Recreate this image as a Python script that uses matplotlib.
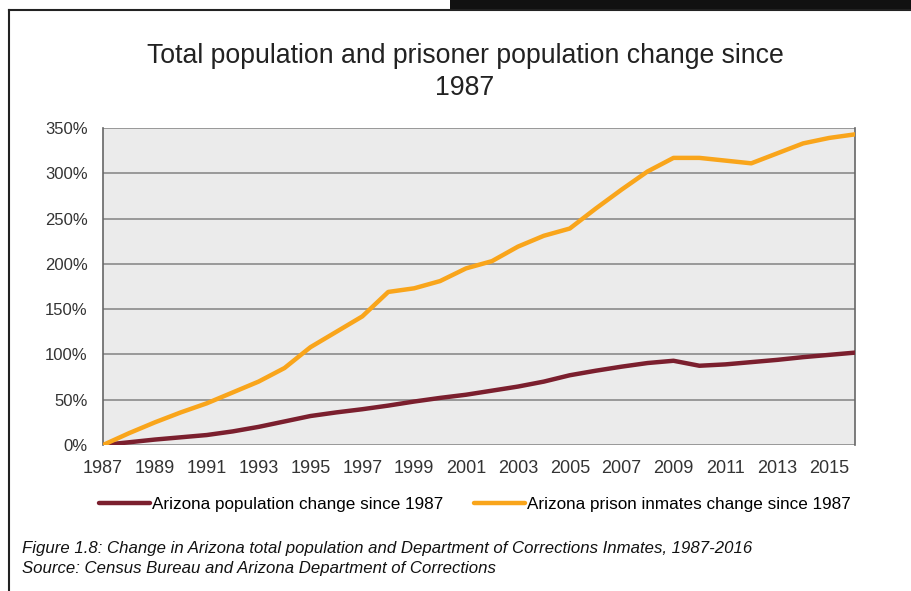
import numpy as np
import matplotlib
matplotlib.use('Agg')
import matplotlib.pyplot as plt
from matplotlib.lines import Line2D
from matplotlib.patches import Rectangle

# data (percent change since 1987)
years = list(range(1987, 2017))
population = [0, 3, 6, 8.5, 11, 15, 20, 26, 32, 36, 39.5, 43.5, 48, 52, 55.5,
              60, 64.5, 70, 77, 82, 86.5, 90.5, 93, 87.5, 89, 91.5, 94, 97, 99.5, 102]
inmates = [0, 13, 25, 36, 46, 58, 70, 85, 108, 125, 142, 169, 173, 181, 195,
           203, 219, 231, 239, 261, 282, 302, 317, 317, 314, 311, 322, 333, 339, 343]
yticks = [0, 50, 100, 150, 200, 250, 300, 350]
xticks = list(range(1987, 2016, 2))

W, H = 912, 591
fig = plt.figure(figsize=(W / 100, H / 100), dpi=100)
fig.patch.set_facecolor('white')

fnt = ['Liberation Sans', 'DejaVu Sans']

# scan frame bits
fig.add_artist(Rectangle((450 / W, 1 - 9 / H), (W - 450) / W, 9 / H,
                         transform=fig.transFigure, color='#111111', lw=0))
fig.add_artist(Line2D([9 / W, 1], [1 - 10 / H, 1 - 10 / H], transform=fig.transFigure,
                      color='#222222', lw=1.5))
fig.add_artist(Line2D([9 / W, 9 / W], [0, 1 - 10 / H], transform=fig.transFigure,
                      color='#222222', lw=1.5))

ax = fig.add_axes([103 / W, (H - 445) / H, 752 / W, 317 / H])
ax.set_facecolor('#ebebeb')
ax.plot(years, population, color='#7b1f2e', lw=3.2, solid_capstyle='round',
        label='Arizona population change since 1987', zorder=3)
ax.plot(years, inmates, color='#f9a51b', lw=3.2, solid_capstyle='round',
        label='Arizona prison inmates change since 1987', zorder=3)

ax.set_xlim(1987, 2016)
ax.set_ylim(0, 350)
ax.set_yticks(yticks)
ax.set_yticklabels(['%d%%' % v for v in yticks], family=fnt, fontsize=12, color='#333333')
ax.set_xticks(xticks)
ax.set_xticklabels([str(v) for v in xticks], family=fnt, fontsize=13, color='#333333')
ax.tick_params(axis='y', length=0, pad=11)
ax.tick_params(axis='x', length=0, pad=11)
ax.grid(axis='y', color='#8a8a8a', lw=1.2)
ax.set_axisbelow(True)
for s in ['top', 'bottom']:
    ax.spines[s].set_visible(False)
for s in ['left', 'right']:
    ax.spines[s].set_color('#666666')
    ax.spines[s].set_linewidth(1.2)

fig.text(465 / W, 1 - 56 / H, 'Total population and prisoner population change since',
         ha='center', va='center', family=fnt, fontsize=19.2, color='#222222')
fig.text(465 / W, 1 - 88 / H, '1987', ha='center', va='center', family=fnt,
         fontsize=19.2, color='#222222')

fig.legend(loc='center', bbox_to_anchor=(475 / W, 1 - 504 / H), ncol=2, frameon=False,
           prop={'family': fnt, 'size': 12.3}, handlelength=3.0, handletextpad=0.1,
           columnspacing=1.8)

fig.text(22 / W, 1 - 549 / H,
         'Figure 1.8: Change in Arizona total population and Department of Corrections Inmates, 1987-2016',
         ha='left', va='center', family=fnt, style='italic', fontsize=12.1, color='#111111')
fig.text(22 / W, 1 - 568 / H, 'Source: Census Bureau and Arizona Department of Corrections',
         ha='left', va='center', family=fnt, style='italic', fontsize=12.1, color='#111111')

fig.savefig('out.png', dpi=100)
